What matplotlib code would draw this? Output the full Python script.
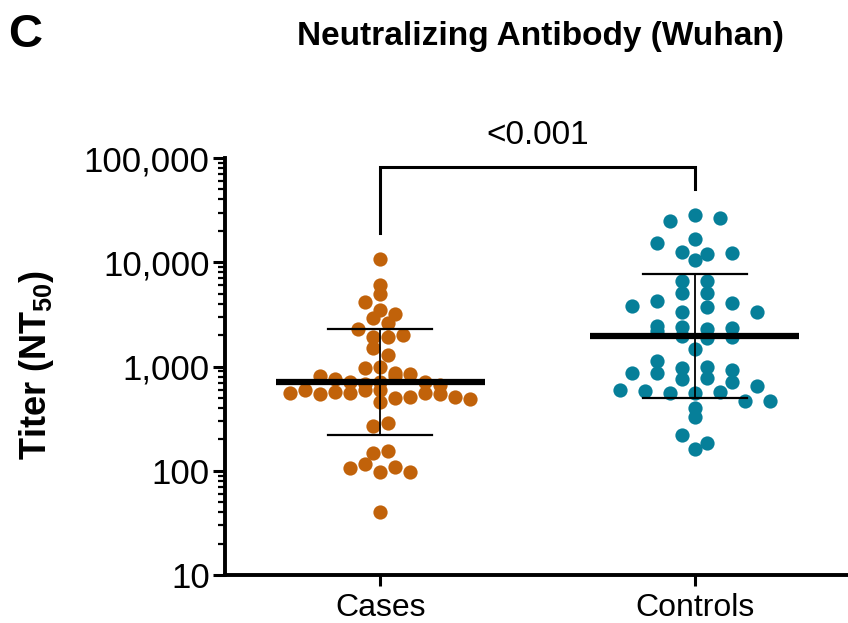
import numpy as np
import matplotlib.pyplot as plt
from matplotlib.ticker import FuncFormatter, LogLocator, NullFormatter

plt.rcParams['font.family'] = ['Liberation Sans', 'DejaVu Sans']
plt.rcParams['mathtext.fontset'] = 'custom'
plt.rcParams['mathtext.rm'] = 'Liberation Sans'
plt.rcParams['mathtext.bf'] = 'Liberation Sans:bold'

groups = ['Cases', 'Controls']
colors = ['#C1620A', '#067F99']

# NT50 titers
cases = [10700, 6050, 4930, 4130, 3460, 3210, 2940, 2630, 2275, 1930,
         1930, 2005, 1495, 1290, 974, 996, 873, 816, 754, 715,
         679, 715, 816, 842, 715, 665, 561, 591, 545, 573,
         561, 591, 591, 502, 513, 561, 545, 513, 488, 454,
         270, 287, 149, 156, 106, 115, 97, 109, 98, 40.5]
controls = [25050, 28400, 26770, 16600, 15400, 12450, 11990, 10520, 12190, 6610,
            6610, 5100, 5100, 3805, 4280, 3334, 3750, 4040, 3334, 2446,
            2410, 2305, 2205, 2340, 1963, 1863, 1905, 1462, 1137, 961,
            996, 925, 861, 861, 754, 771, 715, 650, 595, 586,
            561, 561, 569, 467, 467, 397, 326, 220, 183, 161]

# median and error bar limits as drawn
centers = [715, 1963]
err_low = [220, 502]
err_high = [2290, 7710]
p_label = '<0.001'


def swarm_offsets(vals, bin_w, step):
    logs = np.log10(vals)
    bins = np.floor(logs / bin_w).astype(int)
    offs = np.zeros(len(vals))
    for b in np.unique(bins):
        idx = np.where(bins == b)[0]
        n = len(idx)
        offs[idx] = (np.arange(n) - (n - 1) / 2) * step
    return offs


fig = plt.figure(figsize=(8.48, 6.23), dpi=100)
ax = fig.add_axes([225 / 848, 48 / 623, 623 / 848, 417 / 623])

steps = [0.0478, 0.0796]
for i, vals in enumerate([cases, controls]):
    vals = np.array(vals, dtype=float)
    x = i + swarm_offsets(vals, 0.14, steps[i])
    ax.scatter(x, vals, s=105, color=colors[i], linewidths=0, zorder=2, clip_on=False)

for i in range(2):
    ax.plot([i, i], [err_low[i], err_high[i]], color='black', lw=1.3, zorder=3)
    for v in (err_low[i], err_high[i]):
        ax.plot([i - 0.166, i + 0.166], [v, v], color='black', lw=1.6, zorder=3)
    ax.plot([i - 0.332, i + 0.332], [centers[i], centers[i]], color='black',
            lw=4.5, zorder=4, solid_capstyle='butt')

# significance bracket
leg_l = max(cases) * 10 ** 0.25
leg_r = max(controls) * 10 ** 0.25
top = max(leg_l, leg_r) * 10 ** 0.21
ax.plot([0, 0, 1, 1], [leg_l, top, top, leg_r], color='black', lw=2.2,
        clip_on=False, solid_joinstyle='miter')
ax.text(0.5, top * 10 ** 0.3, p_label, ha='center', va='center', fontsize=24)

ax.set_yscale('log')
ax.set_ylim(10, 100000)
ax.set_xlim(-0.4936, 1.487)
ax.yaxis.set_major_formatter(FuncFormatter(lambda v, _: f'{int(round(v)):,}'))
ax.yaxis.set_minor_locator(LogLocator(base=10, subs=np.arange(2, 10)))
ax.yaxis.set_minor_formatter(NullFormatter())
ax.set_xticks([0, 1])
ax.set_xticklabels(groups)

for s in ['top', 'right']:
    ax.spines[s].set_visible(False)
for s in ['left', 'bottom']:
    ax.spines[s].set_linewidth(2.8)
ax.tick_params(axis='y', which='major', length=9, width=2.2, labelsize=25, pad=2)
ax.tick_params(axis='y', which='minor', length=5, width=1.6)
ax.tick_params(axis='x', length=8, width=2.2, labelsize=23, pad=5)

fig.text(37 / 848, 1 - 365 / 623, r'Titer (NT$_\mathbf{50}$)', rotation=90,
         ha='center', va='center', fontsize=26, fontweight='bold')
fig.text(540 / 848, 1 - 37 / 623, 'Neutralizing Antibody (Wuhan)', ha='center',
         va='center', fontsize=24, fontweight='bold')
fig.text(8 / 848, 1 - 35 / 623, 'C', ha='left', va='center', fontsize=34,
         fontweight='bold')

fig.savefig('out.png', dpi=100)
